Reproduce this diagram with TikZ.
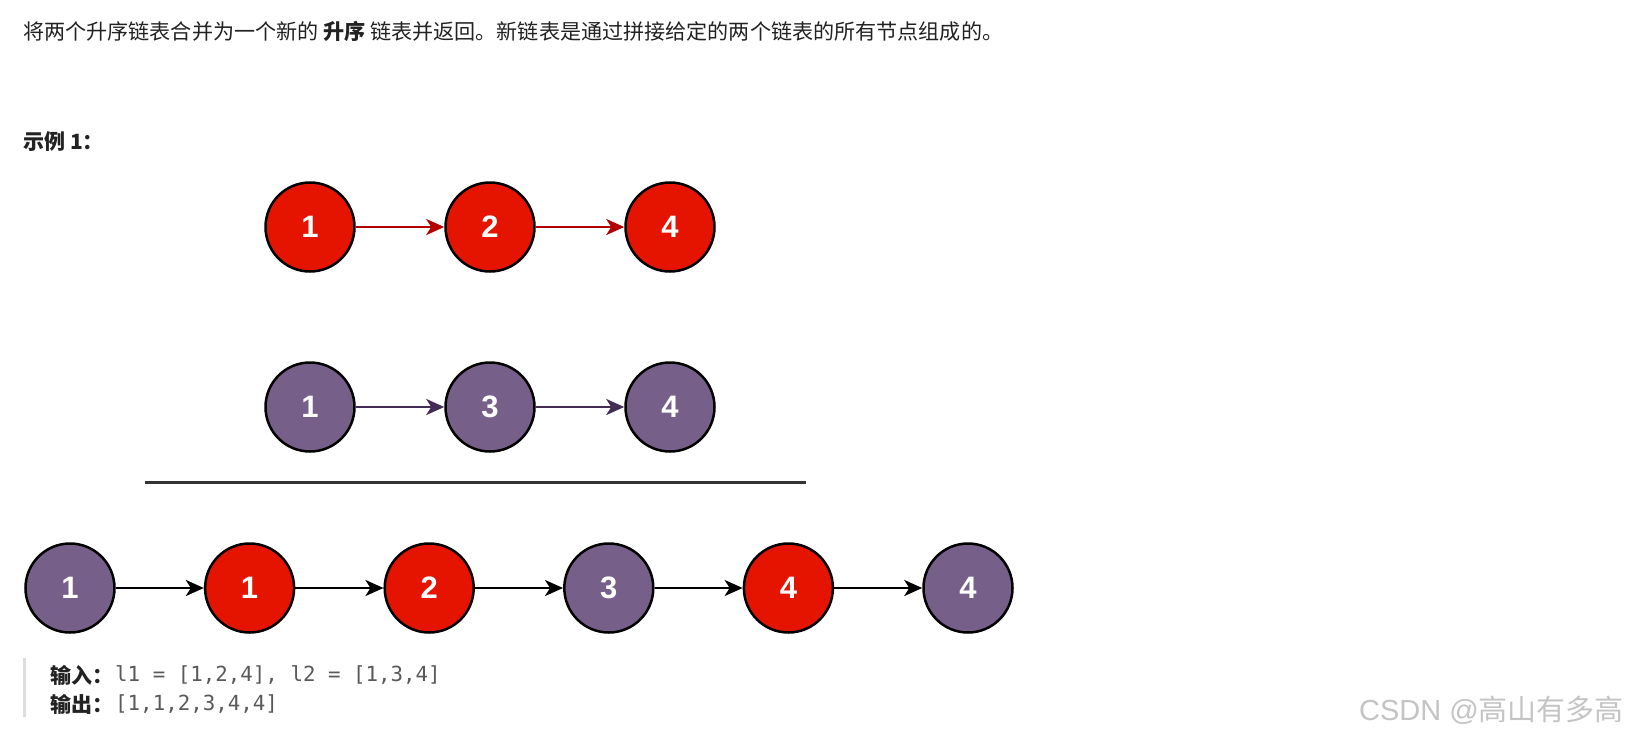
\documentclass[tikz,border=0pt]{standalone}
\usepackage{fontspec}
\setmainfont{Noto Sans CJK SC}
\newfontfamily\digitfont{Liberation Sans}
\newfontfamily\codefont{DejaVu Sans Mono}
\newfontfamily\wmfont{Liberation Sans}
\usetikzlibrary{arrows.meta}
\definecolor{redfill}{HTML}{E51400}
\definecolor{redline}{HTML}{B20000}
\definecolor{purfill}{HTML}{76608A}
\definecolor{purline}{HTML}{432D57}
\definecolor{txt}{HTML}{222222}
\definecolor{codegray}{HTML}{595959}
\definecolor{rulegray}{HTML}{333333}
\definecolor{bargray}{HTML}{DDDDDD}
\definecolor{wmgray}{HTML}{C4C4C4}
\tikzset{
  lnode/.style={circle, draw=black, line width=2.5pt, minimum size=89pt, inner sep=0pt,
    text=white, font=\digitfont\bfseries\fontsize{31}{31}\selectfont},
  rednode/.style={lnode, fill=redfill},
  purnode/.style={lnode, fill=purfill},
  link/.style={line width=2.6pt, -{Stealth[length=18pt,width=16pt,inset=5pt]}},
}
\begin{document}
\begin{tikzpicture}[x=1pt,y=-1pt]
\useasboundingbox (0,0) rectangle (1630,734);
\fill[white] (0,0) rectangle (1630,734);

\node[anchor=west, inner sep=0pt, text=txt, font=\fontsize{21.1}{25}\selectfont] (desc) at (23,31)
  {将两个升序链表合并为一个新的 \textbf{升序} 链表并返回。新链表是通过拼接给定的两个链表的所有节点组成的。};

\node[anchor=west, inner sep=0pt, text=txt, font=\bfseries\fontsize{21}{25}\selectfont] (ex) at (23,142)
  {示例 1：};

% list 1
\node[rednode] (t1) at (310,227) {1};
\node[rednode] (t2) at (490,227) {2};
\node[rednode] (t3) at (670,227) {4};
\draw[link, redline] (t1) -- (t2);
\draw[link, redline] (t2) -- (t3);

% list 2
\node[purnode] (m1) at (310,407) {1};
\node[purnode] (m2) at (490,407) {3};
\node[purnode] (m3) at (670,407) {4};
\draw[link, purline] (m1) -- (m2);
\draw[link, purline] (m2) -- (m3);

% rule
\coordinate (rl) at (145,482);
\coordinate (rr) at (806,482);
\draw[line width=3pt, rulegray] (rl) -- (rr);

% merged
\node[purnode] (b1) at (70,588) {1};
\node[rednode] (b2) at (249.6,588) {1};
\node[rednode] (b3) at (429.2,588) {2};
\node[purnode] (b4) at (608.8,588) {3};
\node[rednode] (b5) at (788.4,588) {4};
\node[purnode] (b6) at (968,588) {4};
\foreach \a/\b in {b1/b2,b2/b3,b3/b4,b4/b5,b5/b6}
  \draw[link, black] (\a) -- (\b);

% quote bar and io text
\coordinate (bt) at (24.5,658);
\coordinate (bb) at (24.5,717);
\draw[line width=3pt, bargray] (bt) -- (bb);
\node[anchor=west, inner sep=0pt, text=txt, font=\bfseries\fontsize{21}{25}\selectfont] (inl) at (50,675)
  {输入：};
\node[anchor=west, inner sep=0pt, text=codegray, font=\codefont\fontsize{20.8}{25}\selectfont] (inv) at (115,675)
  {l1 = [1,2,4], l2 = [1,3,4]};
\node[anchor=west, inner sep=0pt, text=txt, font=\bfseries\fontsize{21}{25}\selectfont] (outl) at (50,704)
  {输出：};
\node[anchor=west, inner sep=0pt, text=codegray, font=\codefont\fontsize{20.8}{25}\selectfont] (outv) at (115,704)
  {[1,1,2,3,4,4]};

% watermark
\node[anchor=east, inner sep=0pt, text=wmgray, font=\fontsize{29}{32}\selectfont] (wm) at (1624,710)
  {{\wmfont CSDN @}高山有多高};
\end{tikzpicture}
\end{document}
